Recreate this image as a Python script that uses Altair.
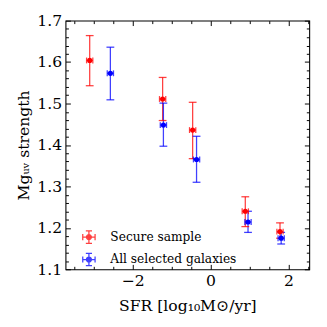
import altair as alt
import pandas as pd

samples = ["Secure sample", "All selected galaxies"]
colors = ["#ff0000", "#0000ff"]

sfr_secure = [-3.10, -1.23, -0.46, 0.89, 1.78]
mg_secure = [1.604, 1.511, 1.436, 1.240, 1.191]
lo_secure = [1.543, 1.459, 1.367, 1.203, 1.175]
hi_secure = [1.664, 1.563, 1.503, 1.275, 1.212]

sfr_all = [-2.57, -1.21, -0.36, 0.96, 1.81]
mg_all = [1.573, 1.448, 1.365, 1.214, 1.175]
lo_all = [1.509, 1.397, 1.310, 1.189, 1.161]
hi_all = [1.636, 1.501, 1.421, 1.240, 1.189]

sfr_err = [0.08, 0.08, 0.08, 0.08, 0.08]

x_major = [-2, 0, 2]
x_minor = [-3.5, -3.0, -2.5, -1.5, -1.0, -0.5, 0.5, 1.0, 1.5, 2.5]
y_major = [1.1, 1.2, 1.3, 1.4, 1.5, 1.6, 1.7]
y_minor = [round(1.1 + 0.02 * i, 2) for i in range(31) if i % 5 != 0]

rows = []
for name, xs, ys, los, his in [
    (samples[0], sfr_secure, mg_secure, lo_secure, hi_secure),
    (samples[1], sfr_all, mg_all, lo_all, hi_all),
]:
    for x, y, l, h, e in zip(xs, ys, los, his, sfr_err):
        rows.append({"sample": name, "sfr": x, "mg": y, "lo": l, "hi": h,
                     "xlo": x - e, "xhi": x + e})
df = pd.DataFrame(rows)

FONT = "DejaVu Serif"
xs_ = alt.Scale(domain=[-3.72, 2.53], nice=False, zero=False)
ys_ = alt.Scale(domain=[1.1, 1.7], nice=False, zero=False)
cs_ = alt.Scale(domain=samples, range=colors)

base = alt.Chart(df)
col_plain = alt.Color("sample:N", scale=cs_, sort=samples)

vbar = base.mark_rule(strokeWidth=1.3, opacity=0.75).encode(
    x=alt.X("sfr:Q", scale=xs_, axis=None),
    y=alt.Y("lo:Q", scale=ys_, axis=None), y2="hi:Q", color=col_plain)
cap_lo = base.mark_tick(orient="horizontal", size=8, thickness=1.3, opacity=0.75).encode(
    x=alt.X("sfr:Q", scale=xs_, axis=None),
    y=alt.Y("lo:Q", scale=ys_, axis=None), color=col_plain)
cap_hi = base.mark_tick(orient="horizontal", size=8, thickness=1.3, opacity=0.75).encode(
    x=alt.X("sfr:Q", scale=xs_, axis=None),
    y=alt.Y("hi:Q", scale=ys_, axis=None), color=col_plain)
hbar = base.mark_rule(strokeWidth=1.3, opacity=0.75).encode(
    x=alt.X("xlo:Q", scale=xs_, axis=None), x2="xhi:Q",
    y=alt.Y("mg:Q", scale=ys_, axis=None), color=col_plain)
xcap_lo = base.mark_tick(orient="vertical", size=6, thickness=1.3, opacity=0.75).encode(
    x=alt.X("xlo:Q", scale=xs_, axis=None),
    y=alt.Y("mg:Q", scale=ys_, axis=None), color=col_plain)
xcap_hi = base.mark_tick(orient="vertical", size=6, thickness=1.3, opacity=0.75).encode(
    x=alt.X("xhi:Q", scale=xs_, axis=None),
    y=alt.Y("mg:Q", scale=ys_, axis=None), color=col_plain)

legend_path = ("M-1,0L1,0M0,-1L0,1M-1,-0.5L-1,0.5M1,-0.5L1,0.5"
               "M-0.5,-1L0.5,-1M-0.5,1L0.5,1"
               "M-0.4,0A0.4,0.4 0 1,1 0.4,0A0.4,0.4 0 1,1 -0.4,0Z")

points = base.mark_point(filled=True, shape="circle", size=28, opacity=1).encode(
    x=alt.X("sfr:Q", scale=xs_, title="SFR [log₁₀M⊙/yr]",
            axis=alt.Axis(orient="bottom", values=x_major, offset=-5, tickSize=5,
                          domain=False, grid=False, labelPadding=4, titlePadding=9,
                          format="d", tickColor="black", labelColor="black")),
    y=alt.Y("mg:Q", scale=ys_, title="Mgᵤᵥ strength",
            axis=alt.Axis(orient="left", values=y_major, offset=-5, tickSize=5,
                          domain=False, grid=False, labelPadding=4, titlePadding=6,
                          format=".1f", tickColor="black", labelColor="black")),
    color=alt.Color("sample:N", scale=cs_, sort=samples,
                    legend=alt.Legend(title=None, orient="none", legendX=17, legendY=215,
                                      symbolType=legend_path, symbolSize=160,
                                      symbolStrokeWidth=1.3, symbolOpacity=1,
                                      labelFont=FONT, labelFontSize=12.5,
                                      labelColor="black", rowPadding=5,
                                      labelOffset=15, padding=0)),
)


def tick_layer(xorient, xvals, xsize, yorient, yvals, ysize):
    return base.mark_point(opacity=0).encode(
        x=alt.X("sfr:Q", scale=xs_, title=None,
                axis=alt.Axis(orient=xorient, values=xvals, offset=-xsize, tickSize=xsize,
                              labels=False, domain=False, grid=False, tickColor="black")),
        y=alt.Y("mg:Q", scale=ys_, title=None,
                axis=alt.Axis(orient=yorient, values=yvals, offset=-ysize, tickSize=ysize,
                              labels=False, domain=False, grid=False, tickColor="black")),
    )


t1 = tick_layer("top", x_major, 5, "right", y_major, 5)
t2 = tick_layer("bottom", x_minor, 3, "left", y_minor, 3)
t3 = tick_layer("top", x_minor, 3, "right", y_minor, 3)

chart = alt.layer(vbar, cap_lo, cap_hi, hbar, xcap_lo, xcap_hi, points, t1, t2, t3).resolve_axis(
    x="independent", y="independent"
).properties(
    width=250, height=255, autosize="none",
    padding={"left": 59, "top": 9, "right": 10, "bottom": 47},
).configure(
    font=FONT
).configure_view(
    stroke="black", strokeWidth=1.1
).configure_axis(
    labelFont=FONT, labelFontSize=16, titleFont=FONT, titleFontSize=16,
    titleFontWeight="normal", titleColor="black", tickWidth=1,
).configure_legend(
    labelFont=FONT, labelFontSize=12.5, labelColor="black"
)

chart.save("out.html", embed_options={"renderer": "svg", "actions": False})
